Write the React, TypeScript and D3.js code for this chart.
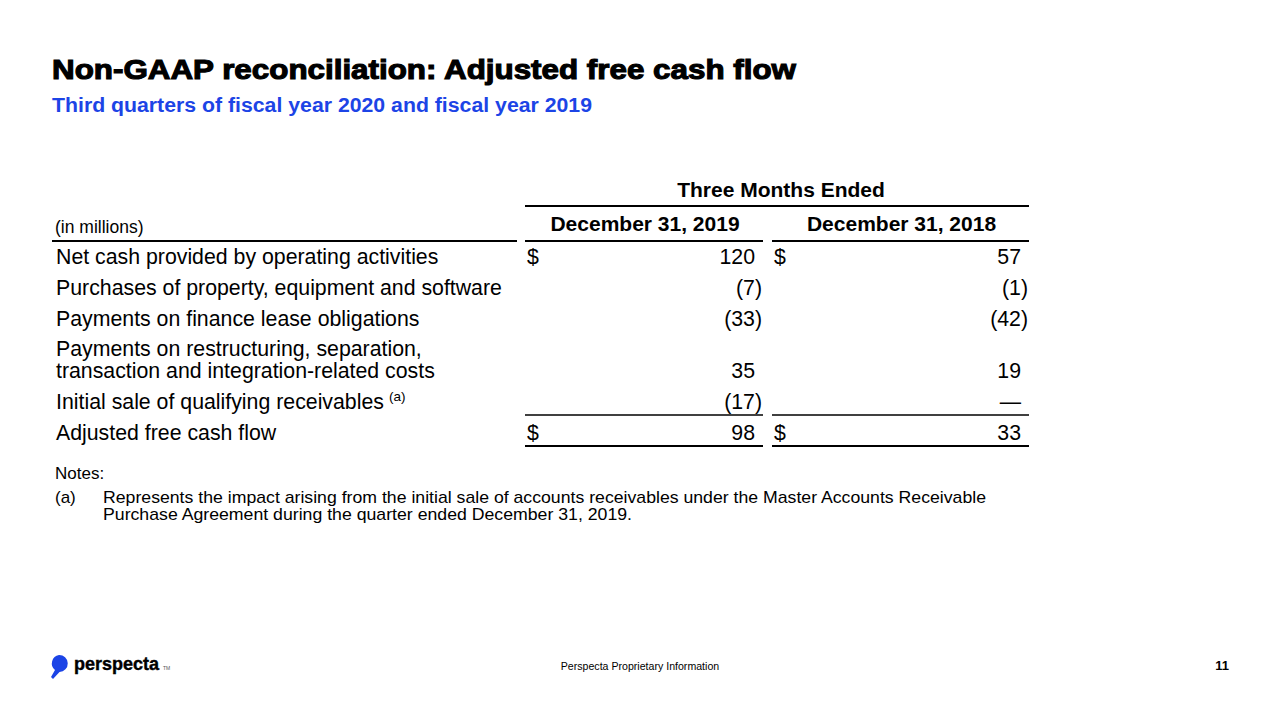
import * as d3 from 'd3';

const title = 'Non-GAAP reconciliation: Adjusted free cash flow';
const subtitle = 'Third quarters of fiscal year 2020 and fiscal year 2019';
const groupHeader = 'Three Months Ended';
const columnHeaders = ['December 31, 2019', 'December 31, 2018'];
const rowLabels = [
  ['Net cash provided by operating activities'],
  ['Purchases of property, equipment and software'],
  ['Payments on finance lease obligations'],
  ['Payments on restructuring, separation,', 'transaction and integration-related costs'],
  ['Initial sale of qualifying receivables'],
  ['Adjusted free cash flow'],
];
const rowNotes = ['', '', '', '', '(a)', ''];
const dollarRows = [true, false, false, false, false, true];
const q3fy2020 = [120, -7, -33, 35, -17, 98];
const q3fy2019 = [57, -1, -42, 19, 0, 33];
const notes = [
  ['(a)', 'Represents the impact arising from the initial sale of accounts receivables under the Master Accounts Receivable', 'Purchase Agreement during the quarter ended December 31, 2019.'],
];

const BLUE = '#1c44e6';
const FONT = 'Arial, "Liberation Sans", sans-serif';

function fmt(v: number) {
  if (v === 0) return '—';
  if (v < 0) return `(${Math.abs(v)})`;
  return `${v}`;
}

export default function App() {
  const width = 1280;
  const height = 720;

  // baseline of each row, accounting for the wrapped label
  const rowStep = 21;
  const lineGap = 22.5;
  const rowGap = 31;
  const baselines: number[] = [];
  let y = 264;
  rowLabels.forEach((lines) => {
    baselines.push(y + (lines.length - 1) * rowStep);
    y += rowGap + (lines.length - 1) * rowStep;
  });
  const rowY = d3.scaleOrdinal<number, number>().domain(d3.range(rowLabels.length)).range(baselines);

  const cols = [
    { x0: 525, x1: 763, values: q3fy2020 },
    { x0: 772, x1: 1029, values: q3fy2019 },
  ];

  return (
    <svg width={width} height={height} style={{ position: 'absolute', left: 0, top: 0, background: '#fff' }} fontFamily={FONT}>
      <rect width={width} height={height} fill="#fff" />
      <text x={52} y={79} fontSize={27} fontWeight="bold" stroke="#000" strokeWidth={1.1} textLength={744} lengthAdjust="spacingAndGlyphs">{title}</text>
      <text x={52} y={112} fontSize={19.5} fontWeight="bold" fill={BLUE} textLength={540} lengthAdjust="spacingAndGlyphs">{subtitle}</text>

      <text x={781} y={197} fontSize={21} fontWeight="bold" textAnchor="middle">{groupHeader}</text>
      <line x1={525} x2={1029} y1={206} y2={206} stroke="#000" strokeWidth={2} />
      <text x={55} y={233} fontSize={17.5}>(in millions)</text>
      <line x1={52} x2={517} y1={241} y2={241} stroke="#000" strokeWidth={2} />
      {cols.map((c, i) => (
        <g key={i}>
          <text x={(c.x0 + c.x1) / 2 + 1} y={231} fontSize={21} fontWeight="bold" textAnchor="middle">{columnHeaders[i]}</text>
          <line x1={c.x0} x2={c.x1} y1={241} y2={241} stroke="#000" strokeWidth={2} />
          <line x1={c.x0} x2={c.x1} y1={415} y2={415} stroke="#000" strokeWidth={1.5} />
          <line x1={c.x0} x2={c.x1} y1={446} y2={446} stroke="#000" strokeWidth={2} />
          {c.values.map((v, r) => (
            <g key={r}>
              {dollarRows[r] && <text x={c.x0 + 2} y={rowY(r)} fontSize={21.3}>$</text>}
              <text x={v < 0 ? c.x1 - 1 : c.x1 - 8} y={rowY(r)} fontSize={21.3} textAnchor="end">{fmt(v)}</text>
            </g>
          ))}
        </g>
      ))}

      {rowLabels.map((lines, r) => (
        <text key={r} fontSize={21.3} y={rowY(r) - (lines.length - 1) * lineGap}>
          {lines.map((l, k) => (
            <tspan key={k} x={56} dy={k === 0 ? 0 : lineGap}>{l}</tspan>
          ))}
          {rowNotes[r] && <tspan fontSize={13.5} dx={5} dy={-8}>{rowNotes[r]}</tspan>}
        </text>
      ))}

      <text x={55} y={479} fontSize={17}>Notes:</text>
      {notes.map((n, i) => (
        <g key={i}>
          <text x={55} y={503} fontSize={17}>{n[0]}</text>
          <text x={103} y={503} fontSize={17} textLength={883} lengthAdjust="spacingAndGlyphs">{n[1]}</text>
          <text x={103} y={520} fontSize={17} textLength={529} lengthAdjust="spacingAndGlyphs">{n[2]}</text>
        </g>
      ))}

      <path d="M59,655 a8.5,8.5 0 1 1 0.5,17 L53,679 L51,677 L55,670 a8.5,8.5 0 0 1 4,-15 Z" fill={BLUE} />
      <text x={74} y={670} fontSize={18} fontWeight="bold" stroke="#000" strokeWidth={0.4}>perspecta</text>
      <text x={163} y={670} fontSize={5} fill="#555">TM</text>
      <text x={640} y={670} fontSize={10.6} textAnchor="middle">Perspecta Proprietary Information</text>
      <text x={1229} y={670} fontSize={13} fontWeight="bold" textAnchor="end">11</text>
    </svg>
  );
}
